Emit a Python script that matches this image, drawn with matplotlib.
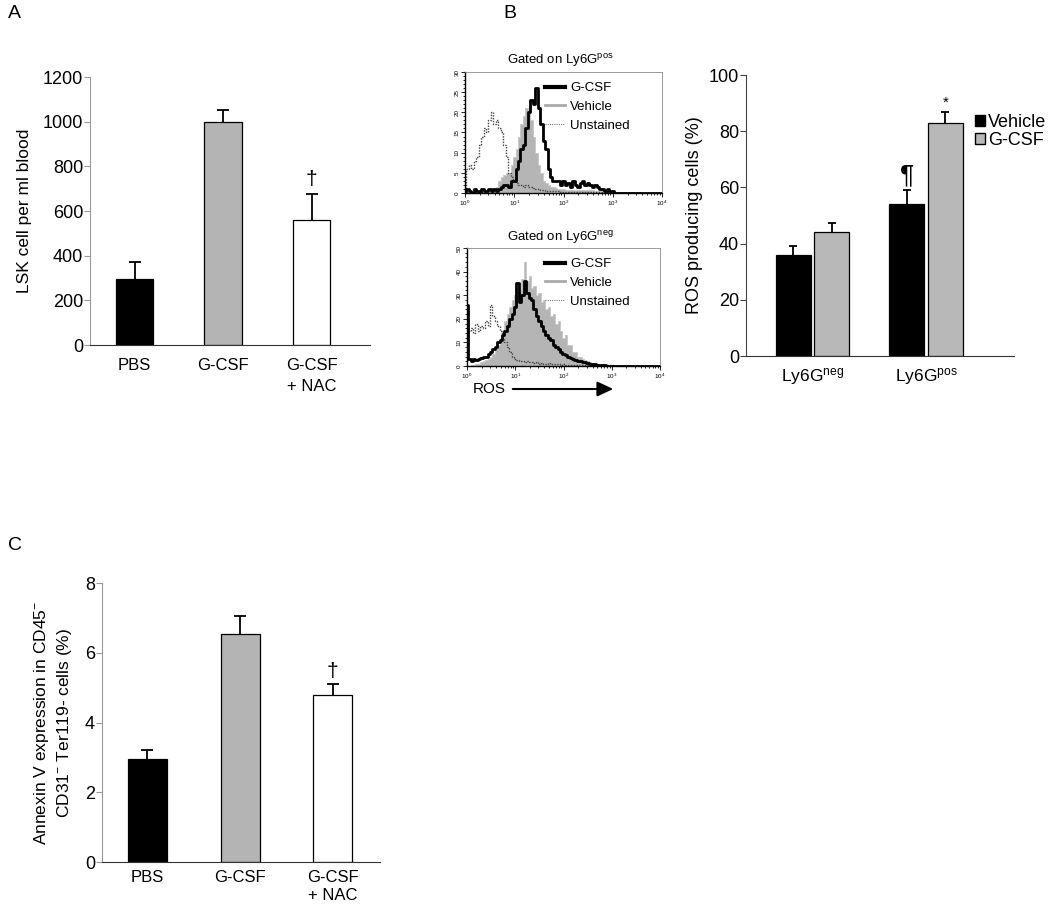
import numpy as np
import matplotlib
matplotlib.use("Agg")
import matplotlib.pyplot as plt
from matplotlib.patches import Patch, FancyArrowPatch
from matplotlib.lines import Line2D
from matplotlib.ticker import MultipleLocator, LogLocator, NullFormatter

plt.rcParams['font.family'] = ['Liberation Sans', 'DejaVu Sans']
plt.rcParams['mathtext.fontset'] = 'custom'
plt.rcParams['mathtext.rm'] = 'Liberation Sans'
plt.rcParams['mathtext.it'] = 'Liberation Sans'

# ---- panel A: LSK cells in blood
a_groups = ["PBS", "G-CSF", "G-CSF\n+ NAC"]
a_mean = [295, 1000, 560]
a_sem = [75, 50, 115]
a_colors = ["black", "#b4b4b4", "white"]
a_ticks = [0, 200, 400, 600, 800, 1000, 1200]

# ---- panel B: ROS producing cells
b_groups = [r"Ly6G$^{\mathrm{neg}}$", r"Ly6G$^{\mathrm{pos}}$"]
b_series = ["Vehicle", "G-CSF"]
b_vehicle = [36, 54]
b_vehicle_sem = [3, 5]
b_gcsf = [44, 83]
b_gcsf_sem = [3.5, 4]
b_ticks = [0, 20, 40, 60, 80, 100]

# ---- panel B: flow histograms (log10 of ROS intensity, step 0.05)
hist_log = np.round(np.arange(0, 4.0001, 0.05), 2)

pos_unstained = [0, 6, 7, 6, 8, 9, 12, 14, 16, 15, 18, 20, 17, 18, 16, 15, 12, 9, 5, 4,
                 3, 2.5, 2, 2, 1.5, 2, 1.5, 1.5, 1.2, 1, 1, 0.8, 0.8, 0.6, 0.6, 0.5, 0.5, 0.4, 0.4, 0.3,
                 0.3] + [0.2] * 20 + [0] * 20
pos_vehicle = [0.3] * 11 + [0.5, 0.8, 1.5, 3, 4, 4.5, 5, 5, 7,
                            9, 11, 14, 17, 19, 21, 20, 18, 14, 10, 7, 5, 3, 2.5, 2, 1.5, 1.5, 1.2, 1, 1,
                            1] + [0.8] * 12 + [0.5] * 8 + [0.3] * 10 + [0] * 10
pos_gcsf = [0, 1, 0.5, 0, 1, 0.5, 0, 1, 0.5, 0.5, 1, 0.5, 1, 0.5, 1, 1.5, 2, 2, 1.5, 3,
            3, 6, 8, 11, 12, 16, 20, 23, 22, 26, 21, 17, 13, 11, 6, 4, 3, 3, 3, 2,
            3, 2, 2.5, 1.5, 3, 2, 1.5, 2.5, 3, 2, 2.5, 2, 1.5, 2, 1.5, 1, 1, 0.5, 1, 0.5,
            0.5] + [0] * 20

neg_unstained = [12, 15, 16, 14, 18, 15, 17, 16, 19, 17, 26, 21, 19, 17, 15, 12, 10, 8, 6, 4,
                 3, 2.5, 2, 2, 1.5, 2, 1.5, 1.5, 1.2, 1.5, 1, 1.2, 1, 1, 1.2, 1, 0.8, 1, 0.8, 0.6,
                 0.8, 0.6] + [0.5] * 11 + [0.3] * 8 + [0] * 20
neg_vehicle = [0, 0, 0.5, 0.5, 1, 1, 1.5, 2, 2.5, 3, 4, 5, 7, 9, 12, 15, 19, 22, 25, 28,
               30, 33, 32, 37, 44, 36, 38, 33, 34, 30, 31, 27, 28, 24, 25, 21, 22, 18, 19, 15,
               12, 13, 9, 9, 6, 6, 4, 4, 3, 2.5, 2, 1.5, 1.2, 1, 0.8, 0.6, 0.5, 0.4, 0.3, 0.2,
               0.2] + [0] * 20
neg_gcsf = [26, 3, 2, 3, 2.5, 3, 3.5, 4, 4, 5, 6, 7, 8, 10, 11, 13, 15, 17, 20, 22,
            25, 35, 27, 30, 36, 31, 29, 28, 24, 21, 19, 17, 15, 13, 12, 11, 9, 8, 7, 6,
            5, 4.5, 4, 3.5, 3, 2.5, 2, 2, 1.5, 1.5, 1.2, 1, 1, 0.8, 0.6, 0.5, 0.4, 0.3, 0.2, 0.1,
            0] + [0] * 20

# ---- panel C: annexin V
c_groups = ["PBS", "G-CSF", "G-CSF\n+ NAC"]
c_mean = [2.95, 6.55, 4.8]
c_sem = [0.25, 0.5, 0.3]
c_colors = ["black", "#b4b4b4", "white"]
c_ticks = [0, 2, 4, 6, 8]

W, H = 1050, 905
fig = plt.figure(figsize=(W / 100, H / 100), dpi=100)


def ax_px(left, top, right, bottom):
    return fig.add_axes([left / W, 1 - bottom / H, (right - left) / W, (bottom - top) / H])


def style_bar_axes(ax, left_color, xpad=9):
    for s in ["top", "right"]:
        ax.spines[s].set_visible(False)
    ax.spines["left"].set_color(left_color)
    ax.spines["bottom"].set_color("#333333")
    ax.tick_params(axis="y", length=4, width=0.8, color=left_color, labelsize=13, pad=1)
    ax.tick_params(axis="x", length=0, labelsize=12, pad=xpad)


def upper_errorbar(ax, x, mean, sem, capsize):
    # SEM drawn upwards only; hide the cap that sits on the bar top
    _, caps, _ = ax.errorbar(x, mean, yerr=[np.zeros(len(sem)), sem], fmt="none", ecolor="black",
                             elinewidth=1.3, capsize=capsize, capthick=1.3, zorder=1)
    for cap in caps:
        if np.allclose(cap.get_ydata(), mean):
            cap.set_visible(False)


def bar_panel(ax, groups, mean, sem, colors, ticks, xlim, spacing=1.5):
    x = np.arange(len(groups))
    ax.bar(x, mean, width=0.42, color=colors, edgecolor="black", linewidth=0.9, zorder=2)
    upper_errorbar(ax, x, mean, sem, 4.3)
    ax.set_xticks(x)
    ax.set_xticklabels(groups, linespacing=spacing)
    ax.set_yticks(ticks)
    ax.set_ylim(ticks[0], ticks[-1])
    ax.set_xlim(*xlim)


# panel A
axA = ax_px(90, 77, 370, 345)
bar_panel(axA, a_groups, a_mean, a_sem, a_colors, a_ticks, (-0.503, 2.66))
style_bar_axes(axA, "#999999")
axA.set_ylabel("LSK cell per ml blood", fontsize=12.5, labelpad=8)
axA.text(2, a_mean[2] + a_sem[2] + 25, "\u2020", ha="center", va="bottom", fontsize=15)

# panel C
axC = ax_px(102, 583, 380, 862)
bar_panel(axC, c_groups, c_mean, c_sem, c_colors, c_ticks, (-0.49, 2.51), spacing=1.25)
style_bar_axes(axC, "#999999", xpad=6)
axC.set_ylabel("Annexin V expression in CD45$^{-}$\nCD31$^{-}$ Ter119- cells (%)",
               fontsize=12.5, labelpad=8, linespacing=1.3)
axC.text(2, c_mean[2] + c_sem[2] + 0.1, "\u2020", ha="center", va="bottom", fontsize=15)

# panel B bars
axB = ax_px(746, 75, 1014, 356)
xb = np.arange(len(b_groups))
off, bw = 0.17, 0.31
axB.bar(xb - off, b_vehicle, width=bw, color="black", edgecolor="black", linewidth=0.9, zorder=2)
axB.bar(xb + off, b_gcsf, width=bw, color="#b8b8b8", edgecolor="black", linewidth=0.9, zorder=2)
upper_errorbar(axB, xb - off, b_vehicle, b_vehicle_sem, 3)
upper_errorbar(axB, xb + off, b_gcsf, b_gcsf_sem, 3)
axB.set_xticks(xb)
axB.set_xticklabels(b_groups)
axB.set_yticks(b_ticks)
axB.set_ylim(0, 100)
axB.set_xlim(-0.586, 1.775)
style_bar_axes(axB, "#444444")
axB.tick_params(axis="x", pad=7, labelsize=12.5)
axB.set_ylabel("ROS producing cells (%)", fontsize=13, labelpad=4)
axB.text(1 - off, b_vehicle[1] + b_vehicle_sem[1] + 1.2, "\u00b6", ha="center", va="bottom", fontsize=19)
axB.text(1 + off, b_gcsf[1] + b_gcsf_sem[1] + 0.5, "*", ha="center", va="bottom", fontsize=11)
handles = [Patch(facecolor="black", edgecolor="black"),
           Patch(facecolor="#b8b8b8", edgecolor="black")]
axB.legend(handles, b_series, loc="upper left", bbox_to_anchor=(975 / W, 1 - 114 / H),
           bbox_transform=fig.transFigure, frameon=False, fontsize=13, handlelength=0.55,
           handleheight=0.55, handletextpad=0.15, labelspacing=0.05, borderpad=0, borderaxespad=0)


# panel B histograms
def hist_panel(ax, unstained, vehicle, gcsf, ymax, major, minor, leg_top):
    x = 10 ** hist_log
    ax.fill_between(x, vehicle, step="mid", color="#b5b5b5", edgecolor="#c8c8c8", linewidth=0.6, zorder=1)
    ax.plot(x, unstained, drawstyle="steps-mid", color="#444444", lw=1.0, ls=(0, (1, 1)), zorder=2)
    ax.plot(x, gcsf, drawstyle="steps-mid", color="black", lw=2, zorder=3)
    ax.set_xscale("log")
    ax.set_xlim(1, 1e4)
    ax.set_ylim(0, ymax)
    ax.yaxis.set_major_locator(MultipleLocator(major))
    ax.yaxis.set_minor_locator(MultipleLocator(minor))
    ax.xaxis.set_minor_locator(LogLocator(base=10, subs=np.arange(2, 10)))
    ax.xaxis.set_minor_formatter(NullFormatter())
    ax.tick_params(which="both", labelsize=4.5, width=0.6, pad=1)
    ax.tick_params(which="major", length=3)
    ax.tick_params(which="minor", length=1.5)
    for lab in ax.get_yticklabels():
        lab.set_rotation(90)
        lab.set_va("center")
    for s in ["top", "right"]:
        ax.spines[s].set_color("#8a8a8a")
        ax.spines[s].set_linewidth(0.6)
    for s in ["left", "bottom"]:
        ax.spines[s].set_linewidth(1.0)
    leg_h = [Line2D([], [], color="black", lw=3),
             Line2D([], [], color="#aaaaaa", lw=2),
             Line2D([], [], color="#777777", lw=0.8, ls=(0, (1, 1)))]
    ax.legend(leg_h, ["G-CSF", "Vehicle", "Unstained"], loc="upper left",
              bbox_to_anchor=(545 / W, 1 - leg_top / H), bbox_transform=fig.transFigure,
              frameon=False, fontsize=9.5, handlelength=1.5, handletextpad=0.4, labelspacing=0.5,
              borderpad=0, borderaxespad=0)


axH1 = ax_px(465, 72, 662, 193)
hist_panel(axH1, pos_unstained, pos_vehicle, pos_gcsf, 30, 5, 1, 82)
fig.text(560 / W, 1 - 61 / H, r"Gated on Ly6G$^{\mathrm{pos}}$", ha="center", va="center", fontsize=9.5)

axH2 = ax_px(467, 248, 660, 366)
hist_panel(axH2, neg_unstained, neg_vehicle, neg_gcsf, 50, 10, 2, 258)
fig.text(560 / W, 1 - 238 / H, r"Gated on Ly6G$^{\mathrm{neg}}$", ha="center", va="center", fontsize=9.5)

fig.text(473 / W, 1 - 389 / H, "ROS", ha="left", va="center", fontsize=11)
fig.add_artist(FancyArrowPatch(
    (510 / W, 1 - 389 / H), (616 / W, 1 - 389 / H), transform=fig.transFigure,
    arrowstyle="-|>,head_length=6,head_width=2.8", color="black", lw=1.5, mutation_scale=1.6))

# panel letters
fig.text(8 / W, 1 - 14 / H, "A", ha="left", va="center", fontsize=14)
fig.text(503 / W, 1 - 14 / H, "B", ha="left", va="center", fontsize=14)
fig.text(8 / W, 1 - 545 / H, "C", ha="left", va="center", fontsize=14)

fig.savefig("out.png", dpi=100, facecolor="white")
